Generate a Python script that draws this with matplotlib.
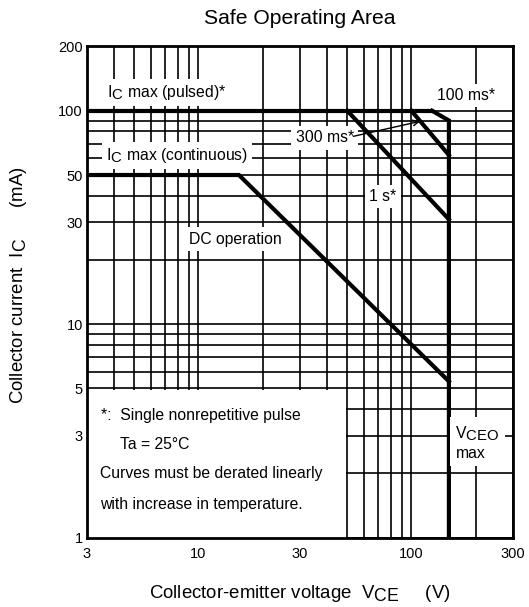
import matplotlib
matplotlib.use("Agg")
import matplotlib.pyplot as plt
import matplotlib._mathtext as _mathtext
from matplotlib.patches import Rectangle
from matplotlib.ticker import FixedLocator, NullFormatter

plt.rcParams['font.family'] = ['Liberation Sans', 'DejaVu Sans']
plt.rcParams['mathtext.fontset'] = 'custom'
plt.rcParams['mathtext.rm'] = 'Liberation Sans'
plt.rcParams['mathtext.it'] = 'Liberation Sans:italic'
# subscripts in the datasheet are nearly full size
_mathtext.SHRINK_FACTOR = 0.95

# curve corner points (V, mA)
pulsed_v = [3, 125]
pulsed_i = [100, 100]
ms100_v = [125, 150, 150]
ms100_i = [100, 90, 1]
ms300_v = [100, 150]
ms300_i = [100, 62]
s1_v = [50, 150]
s1_i = [100, 31]
dc_v = [3, 15.5, 150]
dc_i = [50, 50, 5.4]

x_major = [3, 10, 30, 100, 300]
x_minor = [4, 5, 6, 7, 8, 9, 20, 40, 50, 60, 70, 80, 90, 200]
y_major = [1, 3, 5, 10, 30, 50, 100, 200]
y_minor = [2, 4, 6, 7, 8, 9, 20, 40, 60, 70, 80, 90]

fig = plt.figure(figsize=(5.29, 6.07), dpi=100)
ax = fig.add_axes([0.1645, 0.1142, 0.8053, 0.8092])
ax.set_xscale('log')
ax.set_yscale('log')
ax.set_xlim(3, 300)
ax.set_ylim(1, 200)

ax.xaxis.set_major_locator(FixedLocator(x_major))
ax.xaxis.set_minor_locator(FixedLocator(x_minor))
ax.yaxis.set_major_locator(FixedLocator(y_major))
ax.yaxis.set_minor_locator(FixedLocator(y_minor))
ax.set_xticklabels([str(v) for v in x_major])
ax.set_yticklabels([str(v) for v in y_major])
ax.xaxis.set_minor_formatter(NullFormatter())
ax.yaxis.set_minor_formatter(NullFormatter())
ax.tick_params(which='both', length=0, labelsize=10.5)
ax.tick_params(axis='x', pad=7)
ax.tick_params(axis='y', pad=3)

ax.set_axisbelow(True)
ax.grid(which='both', color='black', lw=1.2)
for s in ax.spines.values():
    s.set_linewidth(2)

# blank area for the notes
ax.add_patch(Rectangle((3, 1), 46.3, 3.93, facecolor='white', edgecolor='none', zorder=1))

lw = 3
for v, i in [(pulsed_v, pulsed_i), (ms100_v, ms100_i), (ms300_v, ms300_i),
             (s1_v, s1_i), (dc_v, dc_i)]:
    ax.plot(v, i, color='black', lw=lw, solid_joinstyle='miter', zorder=3)

box = dict(facecolor='white', edgecolor='none', pad=3)
fs = 11.3
ax.text(7.12, 122, r'I$_{\mathrm{C}}$ max (pulsed)*', ha='center', va='center', fontsize=fs, bbox=box)
ax.text(7.95, 61.7, r'I$_{\mathrm{C}}$ max (continuous)', ha='center', va='center', fontsize=fs, bbox=box)
ax.text(181, 117.7, '100 ms*', ha='center', va='center', fontsize=fs, bbox=box)
ax.text(39.2, 74.6, '300 ms*', ha='center', va='center', fontsize=fs, bbox=box)
ax.text(73.6, 39.7, '1 s*', ha='center', va='center', fontsize=fs, bbox=box)
ax.text(14.94, 25.06, 'DC operation', ha='center', va='center', fontsize=fs, bbox=box)
ax.text(161, 2.79, 'V$_{\\mathrm{CEO}}$\nmax', ha='left', va='center', fontsize=fs,
        bbox=dict(facecolor='white', edgecolor='none', pad=4))
ax.annotate('', xy=(109.8, 89.2), xytext=(53.4, 75.9),
            arrowprops=dict(arrowstyle='->', color='black', lw=1, shrinkA=0, shrinkB=0))

ax.text(3.48, 3.73, '*:  Single nonrepetitive pulse', ha='left', va='center', fontsize=fs)
ax.text(4.29, 2.73, 'Ta = 25°C', ha='left', va='center', fontsize=fs)
ax.text(3.45, 2.0, 'Curves must be derated linearly', ha='left', va='center', fontsize=fs)
ax.text(3.45, 1.43, 'with increase in temperature.', ha='left', va='center', fontsize=fs)

fig.text(0.567, 0.970, 'Safe Operating Area', ha='center', va='center', fontsize=15.2)
fig.text(0.567, 0.022, r'Collector-emitter voltage  V$_{\mathrm{CE}}$     (V)',
         ha='center', va='center', fontsize=13.4)
fig.text(0.0346, 0.5297, r'Collector current  I$_{\mathrm{C}}$      (mA)',
         ha='center', va='center', rotation=90, fontsize=13.4)

fig.savefig('out.png', dpi=100)
